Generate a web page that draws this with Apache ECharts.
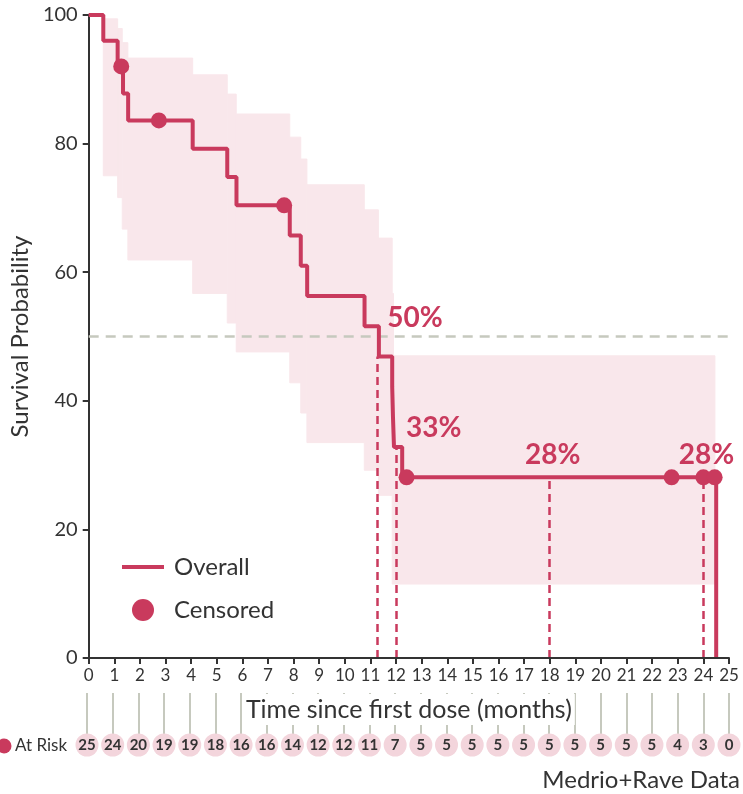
<!DOCTYPE html>
<html>
<head>
<meta charset="utf-8">
<script src="https://cdn.jsdelivr.net/npm/echarts@6/dist/echarts.min.js"></script>
<style>
  html, body { margin: 0; padding: 0; background: #fff; }
  #chart { width: 743px; height: 794px; }
</style>
</head>
<body>
<div id="chart"></div>
<script>
// Kaplan-Meier estimate: event times (months) and survival (%) after each event
const eventTimes = [0, 0.57, 1.13, 1.34, 1.54, 4.06, 5.41, 5.77, 7.85, 8.28, 8.53, 10.77, 11.33, 11.85, 11.88, 11.92, 12.24, 24.5];
const survival   = [100, 96, 92, 87.8, 83.6, 79.2, 74.8, 70.4, 65.7, 61.0, 56.3, 51.6, 46.9, 42.2, 37.5, 32.8, 28.1, 0];

// Censored observations
const censorTimes = [1.27, 2.74, 7.63, 12.41, 22.76, 24.0, 24.44];
const censorSurv  = [92, 83.6, 70.4, 28.1, 28.1, 28.1, 28.1];

// Confidence band: step edges, lower and upper bounds per step
const bandEdges = [0.57, 1.13, 1.31, 1.53, 4.06, 5.41, 5.76, 7.85, 8.28, 8.52, 10.76, 11.31, 11.85, 11.9, 24.45];
const bandLower = [75.0, 71.6, 66.7, 61.9, 56.7, 52.1, 47.6, 42.8, 38.1, 33.5, 29.2, 25.3, 11.5, 11.5];
const bandUpper = [99.4, 97.9, 95.7, 93.3, 90.7, 87.7, 84.6, 81.0, 77.6, 73.6, 69.7, 65.3, 56.7, 47.0];

// Landmarks: median and 12/18/24 month survival
const landmarkTimes  = [11.27, 12, 18, 24];
const landmarkCurve  = [46.9, 32.8, 28.1, 28.1];   // height of the dashed guide
const landmarkLabel  = [50, 32.8, 28.1, 28.1];     // value stated in the label

// Number at risk per month
const riskMonths = [0,1,2,3,4,5,6,7,8,9,10,11,12,13,14,15,16,17,18,19,20,21,22,23,24,25];
const riskCounts = [25,24,20,19,19,18,16,16,14,12,12,11,7,5,5,5,5,5,5,5,5,5,5,4,3,0];

const RED = '#c93a5d';
const BAND = '#f9e7eb';
const RISK = '#f3d5dc';
const GREY = '#c6c9be';
const INK = '#333333';
const FONT = 'Lato';

const bandRows = bandLower.map((lo, i) => [bandEdges[i], bandEdges[i + 1], lo, bandUpper[i]]);

const chart = echarts.init(document.getElementById('chart'), null, { renderer: 'canvas' });

chart.setOption({
  backgroundColor: '#fff',
  animation: false,
  textStyle: { fontFamily: FONT },
  grid: [
    { left: 87, right: 14, top: 15, bottom: 136 },
    { left: 87, right: 14, top: 693, height: 52 }
  ],
  xAxis: [
    {
      type: 'value', gridIndex: 0, min: 0, max: 25, interval: 1, z: 5,
      axisLine: { lineStyle: { color: INK, width: 2 } },
      axisTick: { length: 6, lineStyle: { color: INK, width: 2 } },
      axisLabel: { fontSize: 17, color: INK, margin: 9, fontFamily: FONT },
      splitLine: { show: false },
      name: 'Time since first dose (months)',
      nameLocation: 'middle', nameGap: 36,
      nameTextStyle: { fontSize: 25, color: INK, fontFamily: FONT, backgroundColor: '#fff', padding: [3, 3] }
    },
    {
      type: 'value', gridIndex: 1, min: 0, max: 25, interval: 1, z: 1,
      axisLine: { show: false }, axisTick: { show: false }, axisLabel: { show: false },
      splitLine: { show: true, lineStyle: { color: GREY, width: 2 } }
    }
  ],
  yAxis: [
    {
      type: 'value', gridIndex: 0, min: 0, max: 100, interval: 20,
      axisLine: { show: true, lineStyle: { color: INK, width: 2 } },
      axisTick: { show: true, length: 6, lineStyle: { color: INK, width: 2 } },
      axisLabel: { fontSize: 20, color: INK, margin: 11, fontFamily: FONT },
      splitLine: { show: false },
      name: 'Survival Probability',
      nameLocation: 'middle', nameGap: 53,
      nameTextStyle: { fontSize: 24, color: INK, fontFamily: FONT }
    },
    { type: 'value', gridIndex: 1, min: 0, max: 1, show: false }
  ],
  legend: {
    data: [
      { name: 'Overall', icon: 'path://M0,0 L42,0 L42,4 L0,4 Z' },
      { name: 'Censored', icon: 'circle' }
    ],
    orient: 'vertical', left: 117, top: 550,
    itemWidth: 42, itemHeight: 22, itemGap: 19,
    textStyle: { fontSize: 24, color: INK, fontFamily: FONT, padding: [0, 0, 0, 5] }
  },
  graphic: [
    { type: 'circle', shape: { cx: 4, cy: 746, r: 7.5 }, style: { fill: RED } },
    { type: 'text', x: 15, y: 746, style: { text: 'At Risk', fontSize: 17, fill: INK, fontFamily: FONT, verticalAlign: 'middle' } },
    { type: 'text', x: 740, y: 780, style: { text: 'Medrio+Rave Data', fontSize: 24, fill: INK, fontFamily: FONT, align: 'right', verticalAlign: 'middle' } }
  ],
  series: [
    {
      name: 'Band', type: 'custom', xAxisIndex: 0, yAxisIndex: 0, z: 1,
      encode: { x: [0, 1], y: [2, 3] },
      data: bandRows,
      renderItem: function (params, api) {
        const p0 = api.coord([api.value(0), api.value(3)]);
        const p1 = api.coord([api.value(1), api.value(2)]);
        return {
          type: 'rect',
          shape: { x: p0[0], y: p0[1], width: p1[0] - p0[0], height: p1[1] - p0[1] },
          style: { fill: BAND, stroke: BAND, lineWidth: 1 }
        };
      },
      silent: true
    },
    {
      name: 'Half', type: 'line', xAxisIndex: 0, yAxisIndex: 0, z: 2,
      data: [[0, 50], [25, 50]], symbol: 'none', silent: true,
      lineStyle: { color: GREY, width: 2.5, type: [10, 7] }
    },
    {
      name: 'Landmarks', type: 'scatter', xAxisIndex: 0, yAxisIndex: 0, z: 3,
      symbolSize: 0, clip: false, silent: true,
      itemStyle: { color: RED, opacity: 1 },
      data: landmarkTimes.map((t, i) => {
        const side = i < 2;
        return {
          value: [t, landmarkLabel[i]],
          label: side
            ? { position: 'right', distance: 10, offset: [0, -19] }
            : { position: 'top', distance: 8, offset: [3, 0] }
        };
      }),
      label: {
        show: true, color: RED, fontSize: 28, fontWeight: 'bold', fontFamily: FONT,
        formatter: p => Math.round(p.value[1]) + '%'
      },
      markLine: {
        silent: true, symbol: 'none', label: { show: false },
        lineStyle: { color: RED, width: 2.5, type: [8, 5], opacity: 1 },
        data: landmarkTimes.map((t, i) => [{ coord: [t, 0] }, { coord: [t, landmarkCurve[i]] }])
      }
    },
    {
      name: 'Overall', type: 'line', xAxisIndex: 0, yAxisIndex: 0, z: 4,
      step: 'end', symbol: 'none', showSymbol: false, clip: false,
      data: eventTimes.map((t, i) => [t, survival[i]]),
      itemStyle: { color: RED },
      lineStyle: { color: RED, width: 4 }
    },
    {
      name: 'Censored', type: 'scatter', xAxisIndex: 0, yAxisIndex: 0, z: 5,
      symbol: 'circle', symbolSize: 16, clip: false,
      data: censorTimes.map((t, i) => [t, censorSurv[i]]),
      itemStyle: { color: RED, opacity: 1 }
    },
    {
      name: 'At Risk', type: 'scatter', xAxisIndex: 1, yAxisIndex: 1, z: 5,
      symbol: 'circle', symbolSize: 23, clip: false, silent: true,
      data: riskMonths.map((m, i) => [m, 0, riskCounts[i]]),
      itemStyle: { color: RISK, opacity: 1 },
      label: {
        show: true, position: 'inside', color: INK, fontSize: 15, fontWeight: 'bold', fontFamily: FONT,
        formatter: p => String(p.value[2])
      }
    }
  ]
});
</script>
</body>
</html>
